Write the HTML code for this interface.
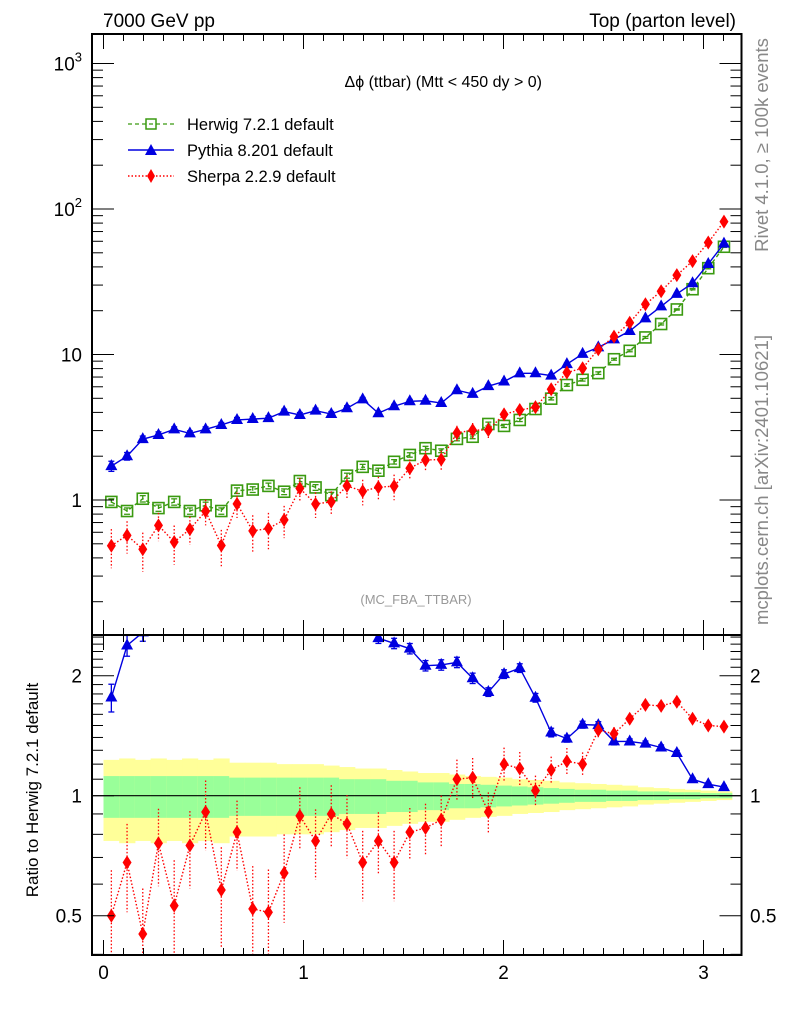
<!DOCTYPE html>
<html><head><meta charset="utf-8"><style>
body{margin:0;background:#fff}
svg{display:block;font-family:"Liberation Sans",sans-serif}
</style></head><body>
<svg id="c" width="786" height="1024" xmlns="http://www.w3.org/2000/svg">
<rect width="786" height="1024" fill="#fff"/>
<g id="bands"></g>
<g id="marks"></g>
<g id="axes"></g>
<text x="103" y="27" font-size="19">7000 GeV pp</text>
<text x="736" y="27" font-size="19" text-anchor="end">Top (parton level)</text>
<text x="542" y="87" font-size="16" text-anchor="end">Δϕ (ttbar) (Mtt &lt; 450 dy &gt; 0)</text>
<g>
<g>
<line x1="128" y1="124" x2="174" y2="124" stroke="#3a9a10" stroke-dasharray="4,3" stroke-width="1.2"/>
<rect x="146" y="119" width="10" height="10" fill="none" stroke="#3a9a10" stroke-width="1.5"/>
<text x="187" y="130" font-size="16.5">Herwig 7.2.1 default</text></g>
<g>
<line x1="128" y1="150" x2="174" y2="150" stroke="#0000e0" stroke-width="1.4"/>
<polygon points="151,144 157,155 145,155" fill="#0000e0"/>
<text x="187" y="156" font-size="16.5">Pythia 8.201 default</text></g>
<g>
<line x1="128" y1="176" x2="174" y2="176" stroke="#ff0000" stroke-dasharray="1.5,2" stroke-width="1.4"/>
<polygon points="151,169 155,176 151,183 147,176" fill="#ff0000"/>
<text x="187" y="182" font-size="16.5">Sherpa 2.2.9 default</text></g>
</g>
<text x="416" y="604" font-size="13" fill="#999" text-anchor="middle">(MC_FBA_TTBAR)</text>
<text transform="translate(768,145) rotate(-90)" font-size="18.5" fill="#888" text-anchor="middle">Rivet 4.1.0, ≥ 100k events</text>
<text transform="translate(768,480) rotate(-90)" font-size="18.5" fill="#888" text-anchor="middle">mcplots.cern.ch [arXiv:2401.10621]</text>
<text transform="translate(38,790) rotate(-90)" font-size="17" text-anchor="middle">Ratio to Herwig 7.2.1 default</text>
</svg>
<script>
const herwig=[0.97,0.84,1.02,0.88,0.97,0.84,0.92,0.84,1.16,1.18,1.25,1.14,1.35,1.22,1.08,1.47,1.69,1.59,1.83,2.04,2.27,2.18,2.63,2.72,3.33,3.23,3.55,4.22,4.97,6.17,6.7,7.45,9.28,10.6,13.1,16.2,20.4,28.1,39.2,55];
const pythia=[1.71,2.0,2.62,2.80,3.06,2.87,3.06,3.28,3.55,3.60,3.65,4.05,3.84,4.11,3.9,4.27,4.92,3.95,4.41,4.77,4.81,4.64,5.68,5.36,6.06,6.52,7.42,7.43,7.16,8.58,10.1,11.2,12.7,14.5,17.7,21.4,26.1,30.9,41.9,57.8];
const sherpaRatio=[0.50,0.68,0.45,0.76,0.53,0.75,0.91,0.58,0.81,0.52,0.51,0.64,0.89,0.77,0.90,0.85,0.68,0.77,0.68,0.81,0.83,0.87,1.10,1.11,0.91,1.20,1.17,1.03,1.16,1.22,1.20,1.46,1.43,1.56,1.69,1.68,1.72,1.56,1.50,1.49];
const herwigErr=[0.05,0.05,0.05,0.05,0.05,0.05,0.05,0.05,0.045,0.045,0.045,0.045,0.045,0.045,0.045,0.04,0.04,0.04,0.035,0.035,0.03,0.03,0.03,0.03,0.03,0.025,0.025,0.025,0.02,0.02,0.02,0.02,0.015,0.015,0.015,0.015,0.01,0.01,0.01,0.01];
const pythiaErr=[0.08,0.06,0.05,0.05,0.04,0.04,0.04,0.04,0.04,0.04,0.04,0.04,0.04,0.04,0.04,0.04,0.03,0.03,0.03,0.03,0.03,0.03,0.03,0.03,0.025,0.025,0.025,0.025,0.025,0.02,0.02,0.02,0.02,0.015,0.015,0.015,0.015,0.01,0.01,0.01];
const sherpaErr=[0.3,0.25,0.3,0.22,0.3,0.22,0.2,0.28,0.2,0.28,0.28,0.25,0.18,0.2,0.18,0.18,0.2,0.18,0.2,0.15,0.15,0.15,0.12,0.12,0.12,0.1,0.1,0.09,0.08,0.08,0.07,0.05,0.04,0.03,0.03,0.03,0.025,0.02,0.02,0.02];
const bandInner=[0.12,0.12,0.12,0.12,0.12,0.12,0.12,0.12,0.11,0.11,0.11,0.11,0.11,0.11,0.11,0.1,0.1,0.1,0.09,0.09,0.08,0.08,0.07,0.07,0.065,0.06,0.055,0.05,0.045,0.04,0.035,0.035,0.03,0.03,0.025,0.025,0.02,0.02,0.015,0.015];
const bandOuter=[0.23,0.24,0.23,0.24,0.23,0.24,0.23,0.24,0.21,0.21,0.21,0.2,0.2,0.2,0.19,0.18,0.17,0.17,0.16,0.15,0.14,0.14,0.13,0.12,0.115,0.11,0.1,0.095,0.09,0.08,0.075,0.07,0.065,0.06,0.05,0.045,0.04,0.035,0.03,0.025];
const xTicks=[0,1,2,3];
const mainTicks=[1,10,100,1000];
const ratioTicks=[0.5,1,2];
const NS='http://www.w3.org/2000/svg';
const L=92,R=741.5,T=34,MB=635,RB=955;
const N=herwig.length, W=Math.PI/N;
const X=v=>103.5+200*v;
const YM=v=>500-145.5*Math.log10(v);
const YR=v=>795.7-120*Math.log2(v);
function mk(p,tag,a){const e=document.createElementNS(NS,tag);for(const k in a)e.setAttribute(k,a[k]);p.appendChild(e);return e;}
const bands=document.getElementById('bands'),marks=document.getElementById('marks'),axes=document.getElementById('axes');
for(let i=0;i<N;i++){
 const x0=X(i*W),x1=X((i+1)*W);
 const o=mk(bands,'rect',{x:x0,y:YR(1+bandOuter[i]),width:x1-x0+0.5,height:YR(1-bandOuter[i])-YR(1+bandOuter[i]),fill:'#ffff99'});
 
 
 const g=mk(bands,'rect',{x:x0,y:YR(1+bandInner[i]),width:x1-x0+0.5,height:YR(1-bandInner[i])-YR(1+bandInner[i]),fill:'#99ff99'});
 
 
}
mk(bands,'line',{x1:L,x2:R,y1:YR(1),y2:YR(1),stroke:'#000','stroke-width':1.2});
const cx=i=>X((i+0.5)*W);
const sherpa=sherpaRatio.map((r,i)=>r*herwig[i]);
const pythiaRatio=pythia.map((v,i)=>v/herwig[i]);
function clipG(y0,y1,id){const cp=mk(marks,'clipPath',{id:id});mk(cp,'rect',{x:L,y:y0,width:R-L,height:y1-y0});return mk(marks,'g',{'clip-path':'url(#'+id+')'});}
const gm=clipG(T,MB,'cm'), gr=clipG(MB,RB,'cr');
function series(g,vals,errs,Y,col,dash,shape,name){
 let d='';vals.forEach((v,i)=>{d+=(i?'L':'M')+cx(i)+','+Y(v);});
 const p=mk(g,'path',{d:d,fill:'none',stroke:col,'stroke-width':1.4});
 if(dash)p.setAttribute('stroke-dasharray',dash);
 
 
 vals.forEach((v,i)=>{
  const x=cx(i),y=Y(v);
  if(errs){const yt=Y(v*(1+errs[i])),yb=Y(Math.max(v*(1-errs[i]),1e-3));
   const e=mk(g,'line',{x1:x,x2:x,y1:yt,y2:yb,stroke:col,'stroke-width':1.3});
   if(dash)e.setAttribute('stroke-dasharray',dash);
   if(shape!=='dia'){mk(g,'line',{x1:x-3,x2:x+3,y1:yt,y2:yt,stroke:col,'stroke-width':1.3});mk(g,'line',{x1:x-3,x2:x+3,y1:yb,y2:yb,stroke:col,'stroke-width':1.3});}
  }
  let m;
  if(shape==='sq')m=mk(g,'rect',{x:x-5.5,y:y-5.5,width:11,height:11,fill:'#fff','fill-opacity':0,stroke:col,'stroke-width':1.6});
  else if(shape==='tri')m=mk(g,'polygon',{points:`${x},${y-7} ${x+6},${y+4} ${x-6},${y+4}`,fill:col});
  else m=mk(g,'polygon',{points:`${x},${y-7} ${x+4.5},${y} ${x},${y+7} ${x-4.5},${y}`,fill:col});
  
  
 });
}
series(gm,herwig,herwigErr,YM,'#3a9a10','4,3','sq','herwig');
series(gm,pythia,pythiaErr,YM,'#0000e0',null,'tri','pythia');
series(gm,sherpa,sherpaErr,YM,'#ff0000','1.5,2','dia','sherpa');
series(gr,pythiaRatio,pythiaErr,YR,'#0000e0',null,'tri','pythia-ratio');
series(gr,sherpaRatio,sherpaErr,YR,'#ff0000','1.5,2','dia','sherpa-ratio');
mk(axes,'rect',{x:L,y:T,width:R-L,height:MB-T,fill:'none',stroke:'#000','stroke-width':2});
mk(axes,'rect',{x:L,y:MB,width:R-L,height:RB-MB,fill:'none',stroke:'#000','stroke-width':2});
const tk=(x1,y1,x2,y2)=>mk(axes,'line',{x1,y1,x2,y2,stroke:'#000','stroke-width':1});
for(let v=0;v<=3.2;v+=0.1){const x=X(v);if(x>R)break;const maj=Math.abs(v-Math.round(v))<1e-6;const h=maj?15:7;
 tk(x,T,x,T+h);tk(x,MB,x,MB-h);tk(x,MB,x,MB+h);tk(x,RB,x,RB-h);}
xTicks.forEach(v=>{const t=mk(axes,'text',{x:X(v),y:979,'font-size':19,'text-anchor':'middle'});t.textContent=v;
 
 });
for(let d=-1;d<=3;d++){for(let m=1;m<10;m++){const v=m*Math.pow(10,d);const y=YM(v);if(y<T||y>MB)continue;const h=m===1?22:11;tk(L,y,L+h,y);tk(R,y,R-h,y);}}
mainTicks.forEach(v=>{const y=YM(v);const t=mk(axes,'text',{x:82,y:y+7,'font-size':19,'text-anchor':'end'});
 if(v>=100){t.textContent='10';const s=mk(t,'tspan',{dy:-9,'font-size':13});s.textContent=Math.log10(v);}else t.textContent=v;
 
 });
for(let v=0.3;v<=2.6;v+=0.1){const y=YR(v);if(y<MB||y>RB)continue;const maj=ratioTicks.some(r=>Math.abs(r-v)<1e-6);const h=maj?22:11;tk(L,y,L+h,y);tk(R,y,R-h,y);}
ratioTicks.forEach(v=>{const y=YR(v);
 const t=mk(axes,'text',{x:82,y:y+7,'font-size':19,'text-anchor':'end'});t.textContent=v;
 
 
 const t2=mk(axes,'text',{x:750,y:y+7,'font-size':19});t2.textContent=v;
 
 });
</script>
</body></html>
